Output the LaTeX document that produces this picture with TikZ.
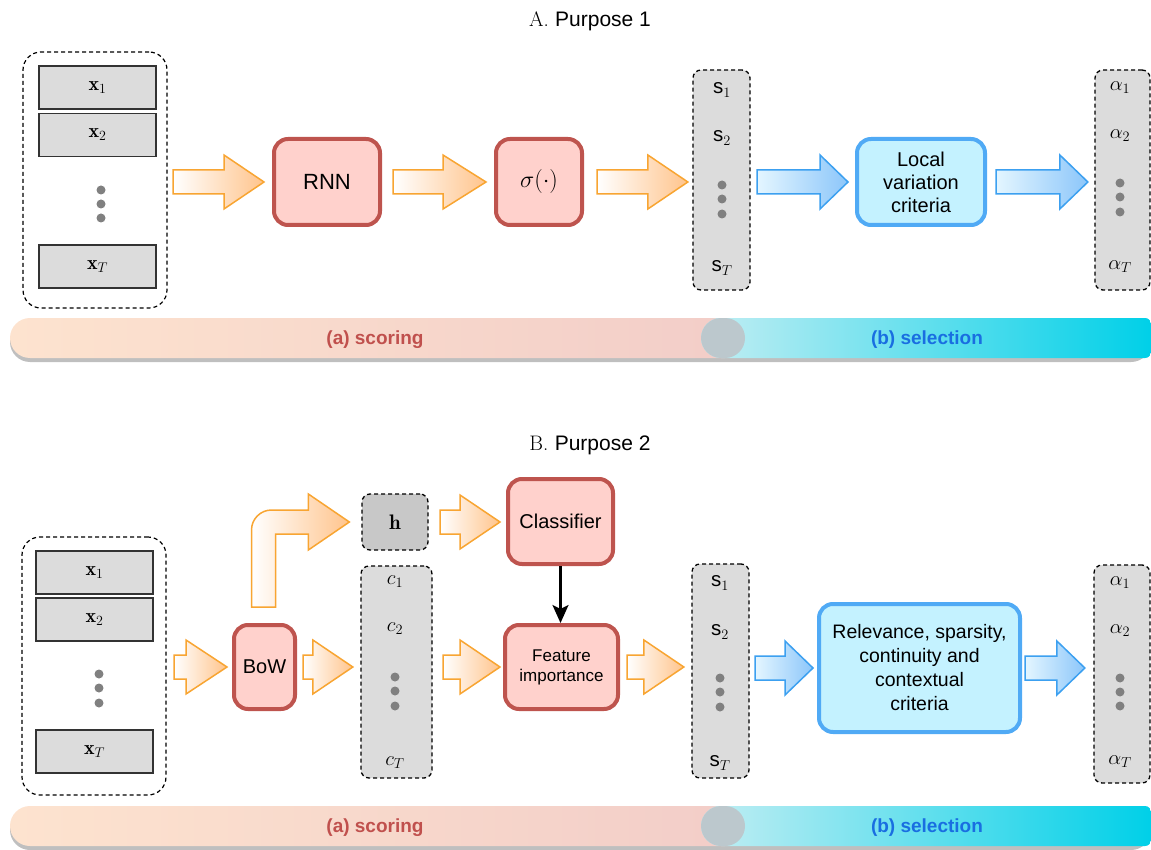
\RequirePackage{fix-cm}
\documentclass[tikz,border=0pt]{standalone}
\usepackage{fontspec}
\setsansfont{Liberation Sans}
\usetikzlibrary{arrows.meta,calc}
\definecolor{redB}{RGB}{190,84,78}
\definecolor{redF}{RGB}{255,209,204}
\definecolor{bluB}{RGB}{80,170,245}
\definecolor{bluF}{RGB}{196,242,255}
\definecolor{orB}{RGB}{248,165,50}
\definecolor{orF}{RGB}{255,196,140}
\definecolor{blaB}{RGB}{60,160,240}
\definecolor{blaL}{RGB}{228,246,255}
\definecolor{blaR}{RGB}{140,198,250}
\definecolor{colF}{RGB}{220,220,220}
\definecolor{hF}{RGB}{200,200,200}
\definecolor{dotC}{RGB}{128,128,128}
\definecolor{scoreC}{RGB}{192,80,77}
\definecolor{selC}{RGB}{25,110,225}
\definecolor{barOL}{RGB}{253,227,207}
\definecolor{barOR}{RGB}{242,205,200}
\definecolor{barBL}{RGB}{195,238,243}
\definecolor{barBR}{RGB}{0,208,232}
\definecolor{lensC}{RGB}{188,200,205}
\def\fatShaft{12pt}
\def\fatHead{27pt}
% #1 style, #2 from node, #3 to node, #4 anchor for y, #5 start gap, #6 end gap, #7 head length
\newcommand\fatarrow[7]{%
  \path[#1] let \p1=(#2.east), \p2=(#3.west), \p3=(#4) in
    (\x1+#5,\y3+\fatShaft) -- (\x2-#6-#7,\y3+\fatShaft) -- (\x2-#6-#7,\y3+\fatHead)
    -- (\x2-#6,\y3) -- (\x2-#6-#7,\y3-\fatHead) -- (\x2-#6-#7,\y3-\fatShaft)
    -- (\x1+#5,\y3-\fatShaft) -- cycle;}
\begin{document}
\begin{tikzpicture}[x=1pt,y=-1pt,
  redbox/.style={draw=redB,fill=redF,line width=4pt,rounded corners=14pt,align=center,inner sep=0pt,font=\sffamily\fontsize{20}{23}\selectfont},
  bluebox/.style={draw=bluB,fill=bluF,line width=4pt,rounded corners=14pt,align=center,inner sep=0pt,font=\sffamily\fontsize{20}{23}\selectfont},
  outerbox/.style={draw=black,line width=1.2pt,dash pattern=on 4pt off 3pt,rounded corners=18pt,inner sep=0pt},
  colbox/.style={draw=black,fill=colF,line width=1.3pt,dash pattern=on 4pt off 3pt,rounded corners=8pt,inner sep=0pt},
  xbox/.style={draw=black!80,fill=colF,line width=1.3pt,minimum width=117pt,minimum height=43pt,inner sep=0pt,font=\fontsize{20}{22}\selectfont},
  dot/.style={circle,fill=dotC,minimum size=9pt,inner sep=0pt},
  lab/.style={inner sep=0pt,font=\fontsize{20.5}{22}\selectfont},
  orarrow/.style={draw=orB,line width=1.5pt,left color=white,right color=orF},
  blarrow/.style={draw=blaB,line width=1.5pt,left color=blaL,right color=blaR},
  titletext/.style={inner sep=0pt,font=\fontsize{21}{24}\selectfont},
  bartext/.style={inner sep=0pt,font=\sffamily\bfseries\fontsize{19}{22}\selectfont}
]
\useasboundingbox (0,0) rectangle (1151,850);

% ================= Purpose 1 =================
\node[titletext] (titleA) at (590,21) {A. \textsf{Purpose 1}};

\node[outerbox,minimum width=144pt,minimum height=256pt] (outerA) at (95,180) {};
\node[xbox] (x1A) at (97.5,87.5) {$\mathbf{x}_1$};
\node[xbox] (x2A) at (97.5,135) {$\mathbf{x}_2$};
\node[xbox] (xTA) at (97.5,266.5) {$\mathbf{x}_T$};
\foreach \yy [count=\i] in {190,204,218} \node[dot] (dxA\i) at (101,\yy) {};

\node[redbox,minimum width=106pt,minimum height=86pt,font=\sffamily\fontsize{22}{24}\selectfont] (rnn) at (327,182) {RNN};
\node[redbox,minimum width=86pt,minimum height=86pt,font=\fontsize{24}{26}\selectfont] (sig) at (539,182) {$\sigma(\cdot)$};

\node[colbox,minimum width=57pt,minimum height=220pt] (sA) at (721.5,180) {};
\node[lab] (sA1) at (722,90) {$\mathsf{s}_1$};
\node[lab] (sA2) at (722,138) {$\mathsf{s}_2$};
\foreach \yy [count=\i] in {185,199,214} \node[dot] (dsA\i) at (722,\yy) {};
\node[lab] (sAT) at (722,268) {$\mathsf{s}_T$};

\node[bluebox,minimum width=128pt,minimum height=86pt] (lv) at (921,182) {Local\\variation\\criteria};

\node[colbox,minimum width=55pt,minimum height=220pt] (alA) at (1122.5,180) {};
\node[lab] (alA1) at (1120,88) {$\alpha_1$};
\node[lab] (alA2) at (1120,136) {$\alpha_2$};
\foreach \yy [count=\i] in {183,197,212} \node[dot] (daA\i) at (1120,\yy) {};
\node[lab] (alAT) at (1120,267) {$\alpha_T$};

\fatarrow{orarrow}{outerA}{rnn}{rnn.west}{5.5pt}{8pt}{40pt}
\fatarrow{orarrow}{rnn}{sig}{sig.west}{11pt}{8pt}{43pt}
\fatarrow{orarrow}{sig}{sA}{sig.east}{13pt}{4.5pt}{40pt}
\fatarrow{blarrow}{sA}{lv}{lv.west}{6.5pt}{7pt}{28pt}
\fatarrow{blarrow}{lv}{alA}{lv.east}{9pt}{6.5pt}{28pt}

% bar A
\fill[black!25,rounded corners=20pt] (10,322) rectangle (1151,362);
\path[left color=barOL,right color=barOR,rounded corners=20pt] (10,318) rectangle (745,358);
\path[left color=barBL,right color=barBR] (730,318) [rounded corners=6pt] -- (1151,318) -- (1151,358) -- (730,358) [rounded corners=20pt] -- (701,358) -- (701,318) -- cycle;
\begin{scope}
  \clip[rounded corners=20pt] (10,318) rectangle (745,358);
  \fill[lensC,rounded corners=20pt] (701,318) rectangle (780,358);
\end{scope}
\node[bartext,text=scoreC] (scoreA) at (375,340) {(a) scoring};
\node[bartext,text=selC] (selA) at (927,340) {(b) selection};

% ================= Purpose 2 =================
\node[titletext] (titleB) at (590,445) {B. \textsf{Purpose 2}};

\node[outerbox,minimum width=144pt,minimum height=258pt] (outerB) at (94,666) {};
\node[xbox] (x1B) at (94.5,572.5) {$\mathbf{x}_1$};
\node[xbox] (x2B) at (94.5,619.5) {$\mathbf{x}_2$};
\node[xbox] (xTB) at (94.5,751.5) {$\mathbf{x}_T$};
\foreach \yy [count=\i] in {674,688,703} \node[dot] (dxB\i) at (99,\yy) {};

\node[redbox,minimum width=61pt,minimum height=84pt] (bow) at (264.5,667) {BoW};

\node[colbox,fill=hF,minimum width=66pt,minimum height=56pt,font=\fontsize{21}{22}\selectfont] (h) at (395,522) {$\mathbf{h}$};

\node[colbox,minimum width=71pt,minimum height=212pt] (cB) at (396.5,672) {};
\node[lab] (c1) at (395,582) {$c_1$};
\node[lab] (c2) at (395,629) {$c_2$};
\foreach \yy [count=\i] in {677,691,706} \node[dot] (dc\i) at (395,\yy) {};
\node[lab] (cT) at (395,763) {$c_T$};

\node[redbox,minimum width=105pt,minimum height=85pt] (cls) at (560.5,521.5) {Classifier};
\node[redbox,minimum width=113pt,minimum height=84pt,font=\sffamily\fontsize{17}{20}\selectfont] (fi) at (561.5,667) {Feature\\importance};

\node[colbox,minimum width=57pt,minimum height=214pt] (sB) at (720.5,671) {};
\node[lab] (sB1) at (720,583) {$\mathsf{s}_1$};
\node[lab] (sB2) at (720,632) {$\mathsf{s}_2$};
\foreach \yy [count=\i] in {678,692,707} \node[dot] (dsB\i) at (720,\yy) {};
\node[lab] (sBT) at (720,763) {$\mathsf{s}_T$};

\node[bluebox,minimum width=201pt,minimum height=128pt,font=\sffamily\fontsize{19.5}{24}\selectfont] (rel) at (919.5,668) {Relevance, sparsity,\\continuity and\\contextual\\criteria};

\node[colbox,minimum width=56pt,minimum height=218pt] (alB) at (1122,674) {};
\node[lab] (alB1) at (1120,583) {$\alpha_1$};
\node[lab] (alB2) at (1120,631) {$\alpha_2$};
\foreach \yy [count=\i] in {678,692,706} \node[dot] (daB\i) at (1120,\yy) {};
\node[lab] (alBT) at (1120,762) {$\alpha_T$};

\fatarrow{orarrow}{outerB}{bow}{bow.west}{7.5pt}{5pt}{41pt}
\fatarrow{orarrow}{bow}{cB}{bow.east}{6pt}{7.5pt}{40pt}
\fatarrow{orarrow}{h}{cls}{h.east}{11.5pt}{6pt}{40pt}
\fatarrow{orarrow}{cB}{fi}{fi.west}{10.5pt}{3pt}{40pt}
\fatarrow{orarrow}{fi}{sB}{fi.east}{7pt}{7.5pt}{40pt}
\fatarrow{blarrow}{sB}{rel}{rel.west}{5.5pt}{4pt}{28pt}
\fatarrow{blarrow}{rel}{alB}{rel.east}{3pt}{8.5pt}{28pt}

% bent arrow BoW -> h
\path[orarrow] let \p1=(bow.north), \p2=(h.west) in
  (\x1-13pt,\y1+16pt) -- (\x1-13pt,\y2-8pt)
  .. controls (\x1-13pt,\y2+3pt) and (\x1-4pt,\y2+12pt) .. (\x1+7pt,\y2+12pt)
  -- (\x2-53pt,\y2+12pt) -- (\x2-53pt,\y2+28pt) -- (\x2-12pt,\y2)
  -- (\x2-53pt,\y2-28pt) -- (\x2-53pt,\y2-12pt) -- (\x1+11pt,\y2-12pt)
  -- (\x1+11pt,\y1+16pt) -- cycle;

% classifier -> feature importance
\draw[line width=2.6pt,-{Stealth[length=18pt,width=16pt,inset=4pt]}] (cls.south) -- (cls.south |- fi.north);

% bar B
\fill[black!25,rounded corners=20pt] (10,810) rectangle (1151,850);
\path[left color=barOL,right color=barOR,rounded corners=20pt] (10,806) rectangle (745,846);
\path[left color=barBL,right color=barBR] (730,806) [rounded corners=6pt] -- (1151,806) -- (1151,846) -- (730,846) [rounded corners=20pt] -- (701,846) -- (701,806) -- cycle;
\begin{scope}
  \clip[rounded corners=20pt] (10,806) rectangle (745,846);
  \fill[lensC,rounded corners=20pt] (701,806) rectangle (780,846);
\end{scope}
\node[bartext,text=scoreC] (scoreB) at (375,828) {(a) scoring};
\node[bartext,text=selC] (selB) at (927,828) {(b) selection};
\end{tikzpicture}
\end{document}
